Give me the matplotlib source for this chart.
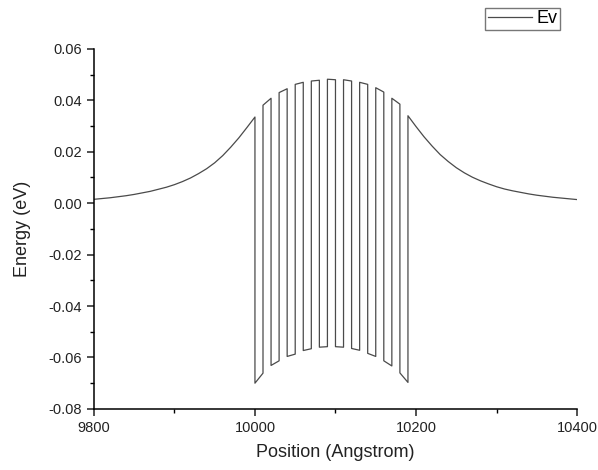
import matplotlib
matplotlib.use("Agg")
import matplotlib.pyplot as plt
from matplotlib.ticker import MultipleLocator, FormatStrFormatter

plt.rcParams['font.family'] = ['Liberation Sans', 'DejaVu Sans']
plt.rcParams['axes.unicode_minus'] = False

# Cladding on the left (position in Angstrom, Ev in eV)
left_x = [9800, 9810, 9820, 9830, 9840, 9850, 9860, 9870, 9880, 9890, 9900,
          9910, 9920, 9930, 9940, 9950, 9960, 9970, 9980, 9990, 10000]
left_ev = [0.0015, 0.0018, 0.0021, 0.0025, 0.0029, 0.0034, 0.0040, 0.0046, 0.0054, 0.0062, 0.0072,
           0.0084, 0.0098, 0.0115, 0.0134, 0.0157, 0.0185, 0.0218, 0.0254, 0.0294, 0.0335]

# Superlattice: layer interfaces, wells and barriers alternate (well first)
edges = [10000, 10010, 10020, 10030, 10040, 10050, 10060, 10070, 10080, 10090,
         10100, 10110, 10120, 10130, 10140, 10150, 10160, 10170, 10180, 10190]
barrier_ev = [0.0335, 0.0381, 0.0408, 0.0430, 0.0445, 0.0462, 0.0470, 0.0475, 0.0478, 0.0482,
              0.0480, 0.0480, 0.0475, 0.0470, 0.0462, 0.0449, 0.0432, 0.0408, 0.0385, 0.0342]
well_ev = [-0.0700, -0.0661, -0.0631, -0.0613, -0.0596, -0.0587, -0.0573, -0.0566, -0.0560, -0.0558,
           -0.0558, -0.0560, -0.0565, -0.0572, -0.0584, -0.0596, -0.0613, -0.0633, -0.0660, -0.0697]

# Cladding on the right
right_x = [10190, 10200, 10210, 10220, 10230, 10240, 10250, 10260, 10270, 10280, 10290,
           10300, 10310, 10320, 10330, 10340, 10350, 10360, 10370, 10380, 10390, 10400]
right_ev = [0.0340, 0.0298, 0.0258, 0.0222, 0.0189, 0.0162, 0.0138, 0.0118, 0.0101, 0.0087, 0.0075,
            0.0064, 0.0055, 0.0048, 0.0042, 0.0036, 0.0031, 0.0027, 0.0023, 0.0020, 0.0017, 0.0014]

# stitch the profile together
xs = list(left_x)
ys = list(left_ev)
for i in range(len(edges) - 1):
    level = well_ev if i % 2 == 0 else barrier_ev
    xs += [edges[i], edges[i + 1]]
    ys += [level[i], level[i + 1]]
xs += right_x
ys += right_ev

fig = plt.figure(figsize=(5.98, 4.70), dpi=100)
ax = fig.add_axes([0.157, 0.130, 0.808, 0.766])

ax.plot(xs, ys, color='#4a4a4a', lw=0.9, label='Ev')

ax.set_xlim(9800, 10400)
ax.set_ylim(-0.08, 0.06)
ax.xaxis.set_major_locator(MultipleLocator(200))
ax.xaxis.set_minor_locator(MultipleLocator(100))
ax.yaxis.set_major_locator(MultipleLocator(0.02))
ax.yaxis.set_minor_locator(MultipleLocator(0.01))
ax.yaxis.set_major_formatter(FormatStrFormatter('%.2f'))

for side in ['top', 'right']:
    ax.spines[side].set_visible(False)
for side in ['left', 'bottom']:
    ax.spines[side].set_linewidth(1.1)
ax.tick_params(which='major', direction='out', length=5, width=1.1,
               labelsize=10.5, colors='#222222')
ax.tick_params(which='minor', direction='out', length=3, width=1.0)

ax.set_xlabel('Position (Angstrom)', fontsize=13, color='#222222', labelpad=7)
ax.set_ylabel('Energy (eV)', fontsize=13, color='#222222', labelpad=13)

leg = ax.legend(loc='upper right', bbox_to_anchor=(0.936, 0.984),
                bbox_transform=fig.transFigure, fontsize=13, frameon=True,
                fancybox=False, edgecolor='#555555', handlelength=2.4,
                handletextpad=0.25, borderpad=0.15, borderaxespad=0)
leg.get_frame().set_linewidth(1.0)

fig.savefig('out.png', dpi=100)
